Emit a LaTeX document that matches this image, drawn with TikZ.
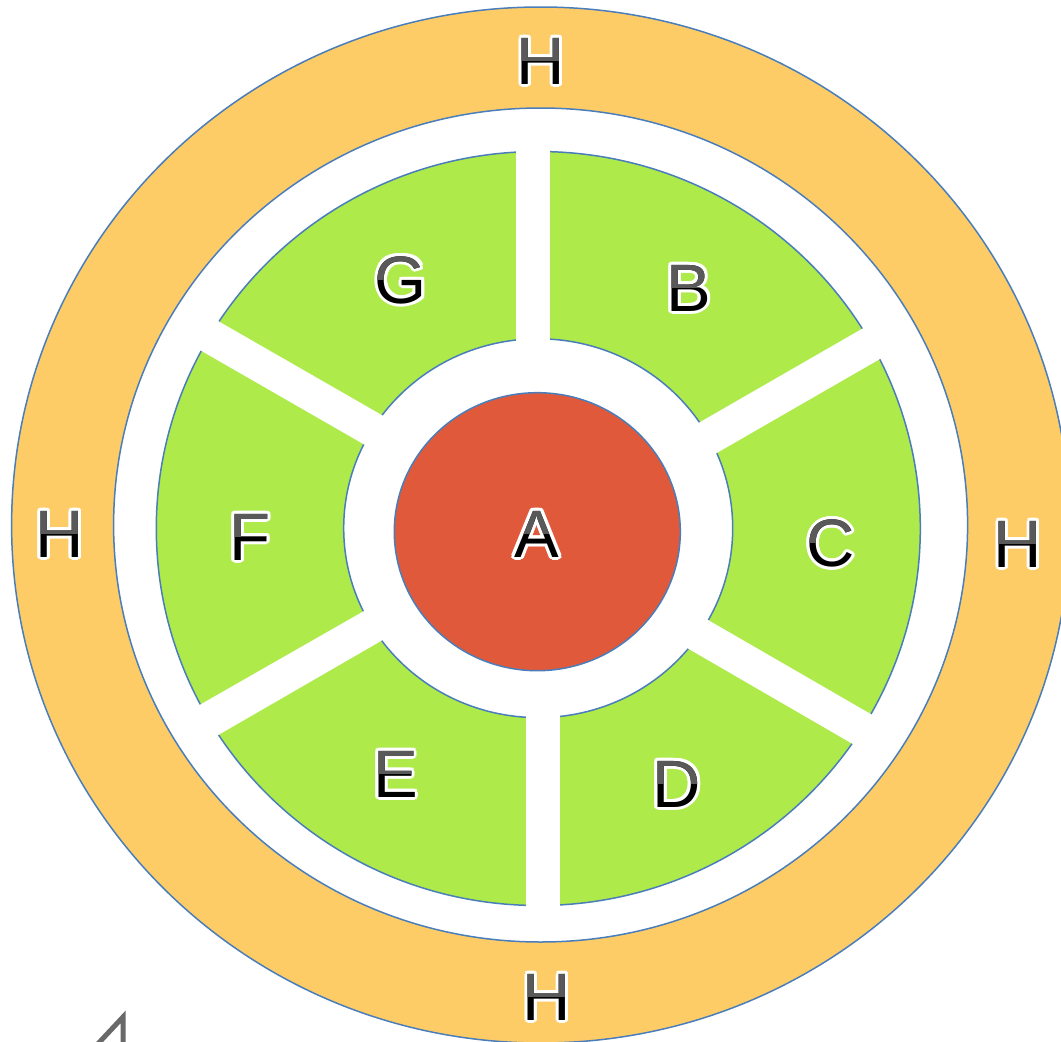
\documentclass[tikz,border=0pt]{standalone}
\usepackage{fontspec}
\setmainfont{Liberation Sans}
\usetikzlibrary{calc}

\definecolor{ringorange}{RGB}{254,204,102}
\definecolor{seggreen}{RGB}{174,234,74}
\definecolor{corered}{RGB}{224,89,58}
\definecolor{edgeblue}{RGB}{74,126,187}
\definecolor{lettergray}{RGB}{89,89,89}
\definecolor{markgray}{RGB}{105,105,105}

\tikzset{
  edge/.style={draw=edgeblue, line width=1.5pt},
  letter/.style={font=\fontsize{67}{67}\selectfont, inner sep=0pt, anchor=base},
}

% white gap between two neighbouring segments: outer/inner point of one edge,
% then outer/inner point of the other edge, slightly extended past the arcs
\newcommand\gapbar[4]{%
  \fill[white] ($(#1)!-0.08!(#2)$) -- ($(#2)!-0.1!(#1)$)
    -- ($(#4)!-0.1!(#3)$) -- ($(#3)!-0.08!(#4)$) -- cycle;}

% outlined letter: white halo, black body, grey upper half
\newcommand\ringletter[4]{%
  \foreach \ang in {0,22.5,...,337.5}
    \node[letter,text=white] at ($(#2,#3+24)+(\ang:3)$) {#4};
  \node[letter,text=black] (#1) at (#2,#3+24) {#4};
  \begin{scope}
    \clip (#2-60,#3-45) rectangle (#2+60,#3);
    \node[letter,text=lettergray] at (#2,#3+24) {#4};
  \end{scope}}

\begin{document}
\begin{tikzpicture}[x=1pt,y=-1pt]
\useasboundingbox (0,0) rectangle (1061,1042);
\clip (0,0) rectangle (1061,1042);

% outer ring H
\path[fill=ringorange, edge] (540.6,525) ellipse [x radius=529, y radius=518];
\path[fill=white, edge] (540.6,525) ellipse [x radius=427, y radius=417];

% ring of segments B..G
\fill[seggreen, even odd rule]
  (538.3,528.5) ellipse [x radius=382, y radius=377]
  (538.2,528.2) ellipse [x radius=194.5, y radius=189.4];
\draw[edge] (538.3,528.5) ellipse [x radius=382, y radius=377];
\draw[edge] (538.2,528.2) ellipse [x radius=194.5, y radius=189.4];

% gaps between the segments
\fill[white] (516,135) rectangle (550,360);
\fill[white] (525.7,700) rectangle (560,922);
\gapbar{219.3,321.7}{381.7,415}{201,350.7}{363.3,444}
\gapbar{861.7,329}{700.7,421.7}{880,359}{717.3,452.7}
\gapbar{200.7,704.3}{362.7,611.7}{218.3,735}{381,641}
\gapbar{870.7,714}{709.3,620.7}{852.7,744}{689.3,649.3}

% core A
\path[fill=corered, edge] (537.3,531.7) ellipse [x radius=143, y radius=139];

% letters
\ringletter{a}{537}{533}{A}
\ringletter{b}{689}{287}{B}
\ringletter{c}{830.7}{542.7}{C}
\ringletter{d}{676.5}{783}{D}
\ringletter{e}{395.5}{773}{E}
\ringletter{f}{250}{536}{F}
\ringletter{g}{401}{279}{G}
\ringletter{htop}{541}{60}{H}
\ringletter{hleft}{59.7}{533}{H}
\ringletter{hright}{1018}{543}{H}
\ringletter{hbottom}{547}{996}{H}

% corner mark
\draw[markgray, line width=5pt, line join=miter] (94,1048) -- (123,1017) -- (123,1048);
\end{tikzpicture}
\end{document}
